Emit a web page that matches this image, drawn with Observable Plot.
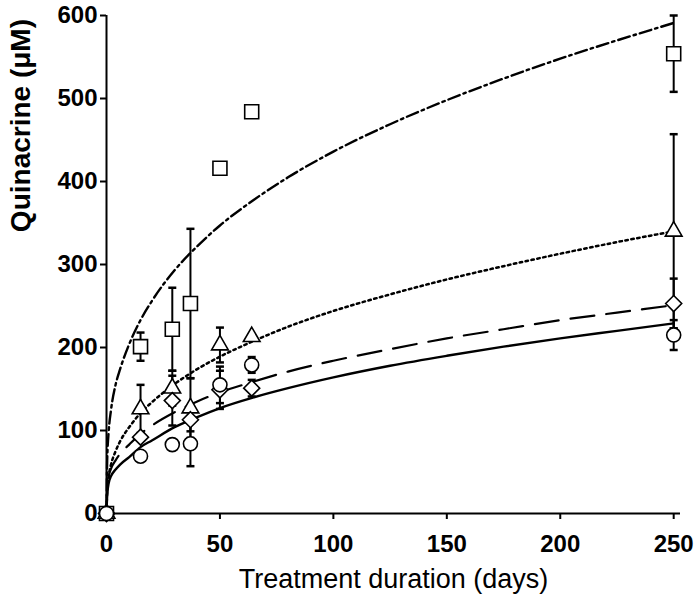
<!DOCTYPE html>
<html><head><meta charset="utf-8">
<script src="https://cdn.jsdelivr.net/npm/d3@7"></script>
<script src="https://cdn.jsdelivr.net/npm/@observablehq/plot@0.6"></script>
<style>body{margin:0;background:#fff} #chart svg{display:block}</style>
</head><body><div id="chart"></div>
<script>
// Measured data (days, µM)
const days = [0, 15, 29, 37, 50, 64, 250];
const squares = [0, 201, 222, 253, 416, 484, 554];
const squaresErr = [0, 17, 50, 90, 0, 0, 46];
const triangles = [0, 126, 151, 127, 203, 213, 340];
const trianglesErr = [0, 29, 21, 36, 21, 0, 117];
const diamonds = [0, 92, 136, 113, 149, 151, 253];
const diamondsErr = [0, 0, 30, 14, 23, 10, 30];
const circles = [0, 69, 83, 84, 155, 179, 215];
const circlesErr = [0, 0, 0, 27, 22, 9.5, 18];

// Fitted curves
const fitDays = [0, 0.3, 1, 2, 4, 6, 10, 15, 20, 30, 40, 50, 65, 80, 100, 125, 150, 175, 200, 225, 250];
const fitCircles = [0, 22, 37, 45, 53, 59, 68, 80, 88, 104, 116, 127, 140, 151, 164, 178, 190, 201, 211, 220, 229];
const fitDiamonds = [0, 28, 45, 54, 64, 72, 83, 96, 106, 122, 135, 146, 159, 171, 184, 198, 211, 222, 233, 242, 251];
const fitTriangles = [0, 28, 46, 59, 75, 87, 104, 121, 134, 156, 174, 189, 208, 225, 244, 264, 282, 298, 313, 327, 340];
const fitSquares = [0, 64, 100, 125, 155, 174, 204, 233, 256, 293, 322, 347, 378, 405, 436, 469, 498, 524, 548, 570, 591];

const xTicks = [0, 50, 100, 150, 200, 250];
const yTicks = [0, 100, 200, 300, 400, 500, 600];
const xTitle = "Treatment duration (days)";
const yTitle = "Quinacrine (μM)";

const diamondSym = {draw(ctx, size){const r=Math.sqrt(size/Math.PI); ctx.moveTo(0,-r); ctx.lineTo(r,0); ctx.lineTo(0,r); ctx.lineTo(-r,0); ctx.closePath();}};
const capSym = {draw(ctx, size){const r=Math.sqrt(size/Math.PI); ctx.moveTo(-r,0); ctx.lineTo(r,0);}};

const rows = (vals, errs) => days.map((d,i)=>({day:d, v:vals[i], e:errs[i]}));
const sq = rows(squares, squaresErr), tr = rows(triangles, trianglesErr), di = rows(diamonds, diamondsErr), ci = rows(circles, circlesErr);
const all = [...sq, ...tr, ...di, ...ci];
const errRows = all.filter(d=>d.e>0);
const capRows = errRows.flatMap(d=>[{day:d.day, v:Math.min(600, d.v+d.e)}, {day:d.day, v:d.v-d.e}]);
const fit = arr => fitDays.map((d,i)=>({day:d, v:arr[i]}));

const lineOpts = {x:"day", y:"v", stroke:"black", curve:"monotone-x"};

const chart = Plot.plot({
  width:700, height:597,
  marginLeft:106, marginRight:20, marginTop:15, marginBottom:84,
  x:{domain:[0,253]}, y:{domain:[0,600]},
  style:{fontFamily:"'Liberation Sans', Arial, sans-serif", color:"black", background:"white"},
  marks:[
    Plot.axisY({ticks:yTicks, tickSize:6, tickPadding:3, fontSize:24, fontWeight:"bold", label:null, strokeWidth:2}),
    Plot.axisX({ticks:xTicks, tickSize:6, tickPadding:15, fontSize:24, fontWeight:"bold", label:null, strokeWidth:2}),
    Plot.ruleX([0], {y1:0, y2:600, strokeWidth:2}),
    Plot.ruleY([0], {x1:0, x2:253, strokeWidth:2}),
    Plot.line(fit(fitCircles), {...lineOpts, strokeWidth:2.4}),
    Plot.line(fit(fitDiamonds), {...lineOpts, strokeWidth:2.2, strokeDasharray:"24,12"}),
    Plot.line(fit(fitTriangles), {...lineOpts, strokeWidth:2.5, strokeDasharray:"2.5,3.5"}),
    Plot.line(fit(fitSquares), {...lineOpts, strokeWidth:2.4, strokeDasharray:"12,4,2.5,4"}),
    Plot.ruleX(errRows, {x:"day", y1:d=>d.v-d.e, y2:d=>Math.min(600, d.v+d.e), strokeWidth:2}),
    Plot.dot(capRows, {x:"day", y:"v", symbol:capSym, r:4, stroke:"black", strokeWidth:2.5}),
    Plot.dot(sq, {x:"day", y:"v", symbol:"square", r:7.9, fill:"white", stroke:"black", strokeWidth:1.6}),
    Plot.dot(tr, {x:"day", y:"v", symbol:"triangle", r:6.2, fill:"white", stroke:"black", strokeWidth:1.6}),
    Plot.dot(di, {x:"day", y:"v", symbol:diamondSym, r:8, fill:"white", stroke:"black", strokeWidth:1.6}),
    Plot.dot(ci, {x:"day", y:"v", symbol:"circle", r:7, fill:"white", stroke:"black", strokeWidth:1.6}),
    Plot.text([xTitle], {text:d=>d, frameAnchor:"bottom", dy:66, fontSize:27, lineAnchor:"middle"}),
    Plot.text([yTitle], {text:d=>d, y:()=>339, frameAnchor:"left", dx:-85, rotate:-90, fontSize:28, fontWeight:"bold", lineAnchor:"middle"})
  ]
});
document.getElementById("chart").appendChild(chart);
</script></body></html>
